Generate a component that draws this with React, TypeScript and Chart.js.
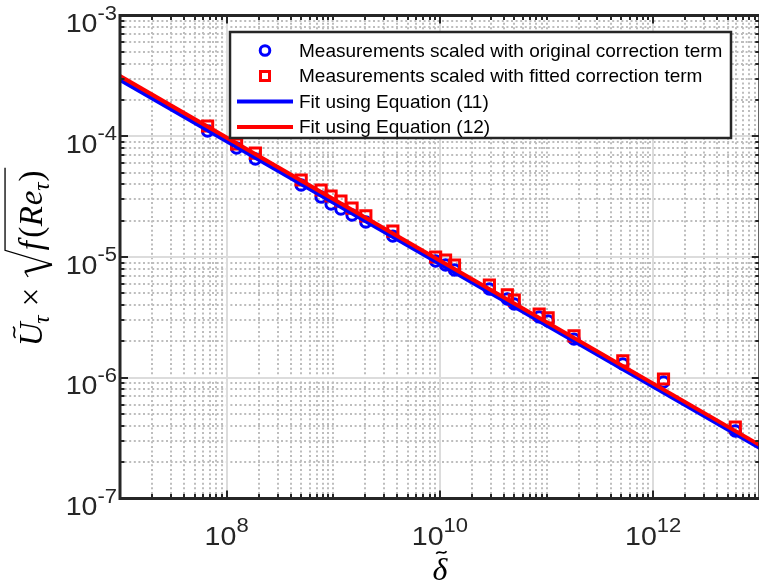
import React, { useEffect, useRef } from 'react';
import { Chart, registerables } from 'chart.js';

Chart.register(...registerables);

// ---------------- data ----------------
const delta = [
  6.63e7, 1.24e8, 1.86e8, 5.0e8, 7.69e8, 9.54e8, 1.18e9, 1.5e9, 2.02e9, 3.62e9,
  9.12e9, 1.13e10, 1.37e10, 2.91e10, 4.29e10, 4.98e10, 8.53e10, 1.035e11, 1.81e11,
  5.19e11, 1.25e12, 5.89e12,
];
const uOriginal = [
  1.105e-4, 7.99e-5, 6.48e-5, 3.95e-5, 3.14e-5, 2.75e-5, 2.5e-5, 2.23e-5, 1.95e-5, 1.49e-5,
  9.27e-6, 8.59e-6, 7.81e-6, 5.43e-6, 4.49e-6, 4.08e-6, 3.19e-6, 2.95e-6, 2.09e-6,
  1.3e-6, 9.22e-7, 3.62e-7,
];
const uFitted = [
  1.216e-4, 8.63e-5, 7.26e-5, 4.34e-5, 3.59e-5, 3.2e-5, 2.91e-5, 2.54e-5, 2.19e-5, 1.64e-5,
  1.0e-5, 9.45e-6, 8.59e-6, 5.86e-6, 4.85e-6, 4.4e-6, 3.37e-6, 3.13e-6, 2.22e-6,
  1.38e-6, 9.76e-7, 3.91e-7,
];
const fitDelta = [1e7, 1e13];
const fitEq11 = [2.92e-4, 2.62e-7];
const fitEq12 = [3.15e-4, 2.77e-7];
const xTickExp = [8, 10, 12];
const yTickExp = [-3, -4, -5, -6, -7];
const legendLabels = [
  'Measurements scaled with original correction term',
  'Measurements scaled with fitted correction term',
  'Fit using Equation (11)',
  'Fit using Equation (12)',
];

const X_MIN = 1e7;
const X_MAX = 1e13;
const Y_MIN = 1e-7;
const Y_MAX = 1e-3;

const AXIS = '#262626';
const BLUE = '#0000ff';
const RED = '#ff0000';
const SANS = '"Liberation Sans", Arial, Helvetica, sans-serif';
const SERIF = '"Liberation Serif", "Times New Roman", serif';

function seg(ctx: CanvasRenderingContext2D, x1: number, y1: number, x2: number, y2: number) {
  ctx.beginPath();
  ctx.moveTo(x1, y1);
  ctx.lineTo(x2, y2);
  ctx.stroke();
}

function tilde(ctx: CanvasRenderingContext2D, cx: number, cy: number, w: number, h: number) {
  const x0 = cx - w / 2;
  ctx.beginPath();
  ctx.moveTo(x0, cy + 0.35 * h);
  ctx.bezierCurveTo(x0 + 0.3 * w, cy - 1.0 * h, x0 + 0.7 * w, cy + 1.0 * h, x0 + w, cy - 0.35 * h);
  ctx.stroke();
}

const TICK_STRETCH = 1.1;

function drawPow(
  ctx: CanvasRenderingContext2D,
  exp: number,
  x: number,
  baseY: number,
  supY: number,
  align: 'center' | 'right'
) {
  const base = '10';
  const sup = String(exp);
  const bf = `26px ${SANS}`;
  const sf = `20px ${SANS}`;
  ctx.font = bf;
  const bw = ctx.measureText(base).width;
  ctx.font = sf;
  const sw = ctx.measureText(sup).width;
  const total = (bw + sw) * TICK_STRETCH;
  const left = align === 'center' ? x - total / 2 : x - total;
  ctx.save();
  ctx.translate(left, 0);
  ctx.scale(TICK_STRETCH, 1);
  ctx.textAlign = 'left';
  ctx.textBaseline = 'alphabetic';
  ctx.font = bf;
  ctx.fillText(base, 0, baseY);
  ctx.font = sf;
  ctx.fillText(sup, bw, supY);
  ctx.restore();
}

function drawYLabel(ctx: CanvasRenderingContext2D, baseX: number, cy: number) {
  const F = 33;
  const it = `italic ${F}px ${SERIF}`;
  const rm = `${F}px ${SERIF}`;
  const sub = `italic ${Math.round(F * 0.7)}px ${SERIF}`;
  const run = (draw: boolean) => {
    let c = 0;
    const put = (t: string, f: string, dy = 0) => {
      ctx.font = f;
      const w = ctx.measureText(t).width;
      if (draw) ctx.fillText(t, c, dy);
      c += w;
      return w;
    };
    const uStart = c;
    const uw = put('U', it);
    if (draw) {
      ctx.lineWidth = 1.6;
      tilde(ctx, uStart + uw * 0.58, -0.84 * F, 0.34 * F, 0.11 * F);
    }
    c -= 0.04 * F;
    put('\u03c4', sub, 0.2 * F);
    c += 0.28 * F;
    put('\u00d7', rm);
    c += 0.28 * F;
    const rs = c;
    const rw = 0.85 * F;
    c += rw;
    put('f', it);
    c += 0.1 * F;
    put('(', rm);
    c += 0.02 * F;
    put('R', it);
    c += 0.02 * F;
    put('e', it);
    put('\u03c4', sub, 0.2 * F);
    c += 0.03 * F;
    put(')', rm);
    c += 0.08 * F;
    if (draw) {
      const top = -1.12 * F;
      ctx.lineJoin = 'miter';
      ctx.lineWidth = 1.3;
      ctx.beginPath();
      ctx.moveTo(rs + 0.04 * F, -0.42 * F);
      ctx.lineTo(rs + 0.2 * F, -0.52 * F);
      ctx.stroke();
      ctx.lineWidth = 2.6;
      seg(ctx, rs + 0.2 * F, -0.52 * F, rs + 0.42 * F, 0.3 * F);
      ctx.lineWidth = 1.3;
      ctx.beginPath();
      ctx.moveTo(rs + 0.42 * F, 0.3 * F);
      ctx.lineTo(rs + rw, top);
      ctx.lineTo(c, top);
      ctx.stroke();
    }
    return c;
  };
  ctx.save();
  ctx.translate(baseX, cy);
  ctx.rotate(-Math.PI / 2);
  const total = run(false);
  ctx.translate(-total / 2, 0);
  ctx.fillStyle = '#000';
  ctx.strokeStyle = '#000';
  ctx.textAlign = 'left';
  ctx.textBaseline = 'alphabetic';
  run(true);
  ctx.restore();
}

function drawXLabel(ctx: CanvasRenderingContext2D, cx: number, baseY: number) {
  const F = 32;
  ctx.save();
  ctx.font = `italic ${F}px ${SERIF}`;
  ctx.fillStyle = '#000';
  ctx.strokeStyle = '#000';
  ctx.textAlign = 'center';
  ctx.textBaseline = 'alphabetic';
  ctx.fillText('\u03b4', cx, baseY);
  ctx.lineWidth = 1.6;
  tilde(ctx, cx + 1.5, baseY - 0.86 * F, 0.32 * F, 0.11 * F);
  ctx.restore();
}

const matlabLook = {
  id: 'matlabLook',
  beforeDatasetsDraw(chart: any) {
    const { ctx, chartArea: a, scales } = chart;
    const xs = scales.x;
    const ys = scales.y;
    ctx.save();
    ctx.fillStyle = '#ffffff';
    ctx.fillRect(a.left, a.top, a.right - a.left, a.bottom - a.top);
    ctx.beginPath();
    ctx.rect(a.left, a.top, a.right - a.left, a.bottom - a.top);
    ctx.clip();
    // minor dotted grid
    ctx.strokeStyle = '#bdbdbd';
    ctx.lineWidth = 2;
    ctx.setLineDash([2, 2.6]);
    for (let d = 7; d < 13; d++) {
      for (let m = 1; m <= 9; m++) {
        if (m === 1 && (d === 7 || xTickExp.includes(d))) continue;
        const px = Math.round(xs.getPixelForValue(m * Math.pow(10, d)));
        seg(ctx, px, a.bottom, px, a.top);
      }
    }
    for (let d = -7; d < -3; d++) {
      for (let m = 2; m <= 9; m++) {
        const py = Math.round(ys.getPixelForValue(m * Math.pow(10, d)));
        seg(ctx, a.left, py, a.right, py);
      }
    }
    // major solid grid
    ctx.setLineDash([]);
    ctx.strokeStyle = '#dcdcdc';
    ctx.lineWidth = 2;
    xTickExp.forEach((e) => {
      const px = Math.round(xs.getPixelForValue(Math.pow(10, e)));
      seg(ctx, px, a.top, px, a.bottom);
    });
    yTickExp.forEach((e) => {
      const py = Math.round(ys.getPixelForValue(Math.pow(10, e)));
      seg(ctx, a.left, py, a.right, py);
    });
    ctx.restore();
  },
  afterDatasetsDraw(chart: any) {
    const { ctx, chartArea: a, scales } = chart;
    const xs = scales.x;
    const ys = scales.y;
    ctx.save();
    ctx.strokeStyle = AXIS;
    ctx.fillStyle = AXIS;
    // ticks
    const MAJ = 8;
    const MIN = 4.5;
    ctx.lineWidth = 2;
    for (let d = 7; d < 13; d++) {
      for (let m = 1; m <= 9; m++) {
        const v = m * Math.pow(10, d);
        if (v <= X_MIN) continue;
        const px = Math.round(xs.getPixelForValue(v));
        const len = m === 1 && xTickExp.includes(d) ? MAJ : MIN;
        seg(ctx, px, a.bottom, px, a.bottom - len);
        seg(ctx, px, a.top, px, a.top + len);
      }
    }
    for (let d = -7; d < -3; d++) {
      for (let m = 1; m <= 9; m++) {
        const v = m * Math.pow(10, d);
        if (v <= Y_MIN) continue;
        const py = Math.round(ys.getPixelForValue(v));
        const len = m === 1 ? MAJ : MIN;
        seg(ctx, a.left, py, a.left + len, py);
        seg(ctx, a.right, py, a.right - len, py);
      }
    }
    // box
    ctx.lineWidth = 3;
    ctx.strokeRect(a.left, a.top, a.right - a.left, a.bottom - a.top);

    // tick labels
    ctx.fillStyle = AXIS;
    xTickExp.forEach((e) => {
      const px = xs.getPixelForValue(Math.pow(10, e));
      drawPow(ctx, e, px, a.bottom + 46.5, a.bottom + 33.5, 'center');
    });
    yTickExp.forEach((e) => {
      const py = ys.getPixelForValue(Math.pow(10, e));
      drawPow(ctx, e, a.left - 3, py + 16.5, py + 4, 'right');
    });

    // axis labels
    drawYLabel(ctx, 42, (a.top + a.bottom) / 2);
    drawXLabel(ctx, (a.left + a.right) / 2, 580);

    // legend
    const L = 230;
    const R = 731;
    const T = 32;
    const B = 138;
    ctx.fillStyle = '#ffffff';
    ctx.fillRect(L, T, R - L, B - T);
    ctx.strokeStyle = AXIS;
    ctx.lineWidth = 2.5;
    ctx.strokeRect(L, T, R - L, B - T);
    const rows = [50.5, 76, 101.5, 127];
    const mx = 265;
    ctx.lineWidth = 3;
    ctx.strokeStyle = BLUE;
    ctx.beginPath();
    ctx.arc(mx, rows[0], 4.8, 0, Math.PI * 2);
    ctx.stroke();
    ctx.strokeStyle = RED;
    ctx.strokeRect(mx - 4.5, rows[1] - 4.5, 9, 9);
    ctx.lineWidth = 4;
    ctx.strokeStyle = BLUE;
    seg(ctx, 237, rows[2], 293, rows[2]);
    ctx.strokeStyle = RED;
    seg(ctx, 237, rows[3], 293, rows[3]);
    ctx.fillStyle = '#000';
    ctx.font = `19px ${SANS}`;
    ctx.textAlign = 'left';
    ctx.textBaseline = 'middle';
    legendLabels.forEach((t, i) => ctx.fillText(t, 299, rows[i] + 1));
    ctx.restore();
  },
};

export default function App() {
  const ref = useRef<HTMLCanvasElement>(null);
  useEffect(() => {
    const canvas = ref.current;
    if (!canvas) return;
    const chart = new Chart(canvas, {
      type: 'scatter',
      data: {
        datasets: [
          {
            label: legendLabels[0],
            data: delta.map((x, i) => ({ x, y: uOriginal[i] })),
            showLine: false,
            pointStyle: 'circle',
            pointRadius: 5.2,
            pointBorderWidth: 3,
            borderColor: BLUE,
            backgroundColor: 'rgba(0,0,0,0)',
            order: 4,
          },
          {
            label: legendLabels[1],
            data: delta.map((x, i) => ({ x, y: uFitted[i] })),
            showLine: false,
            pointStyle: 'rect',
            pointRadius: 7.2,
            pointBorderWidth: 3,
            borderColor: RED,
            backgroundColor: 'rgba(0,0,0,0)',
            order: 3,
          },
          {
            label: legendLabels[2],
            data: fitDelta.map((x, i) => ({ x, y: fitEq11[i] })),
            showLine: true,
            pointRadius: 0,
            borderWidth: 4,
            borderColor: BLUE,
            backgroundColor: BLUE,
            order: 2,
          },
          {
            label: legendLabels[3],
            data: fitDelta.map((x, i) => ({ x, y: fitEq12[i] })),
            showLine: true,
            pointRadius: 0,
            borderWidth: 4,
            borderColor: RED,
            backgroundColor: RED,
            order: 1,
          },
        ],
      },
      options: {
        animation: false,
        responsive: false,
        events: [],
        layout: { padding: { left: 120, top: 15.5, right: 7.4, bottom: 87.5 } },
        plugins: { legend: { display: false }, tooltip: { enabled: false }, title: { display: false } },
        scales: {
          x: { type: 'logarithmic', min: X_MIN, max: X_MAX, display: false },
          y: { type: 'logarithmic', min: Y_MIN, max: Y_MAX, display: false },
        },
      },
      plugins: [matlabLook],
    });
    return () => chart.destroy();
  }, []);
  return (
    <div
      style={{
        position: 'fixed',
        left: 0,
        top: 0,
        width: 759,
        height: 586,
        overflow: 'hidden',
        background: '#ffffff',
      }}
    >
      <canvas ref={ref} width={770} height={586} style={{ display: 'block', width: 770, height: 586 }} />
    </div>
  );
}
